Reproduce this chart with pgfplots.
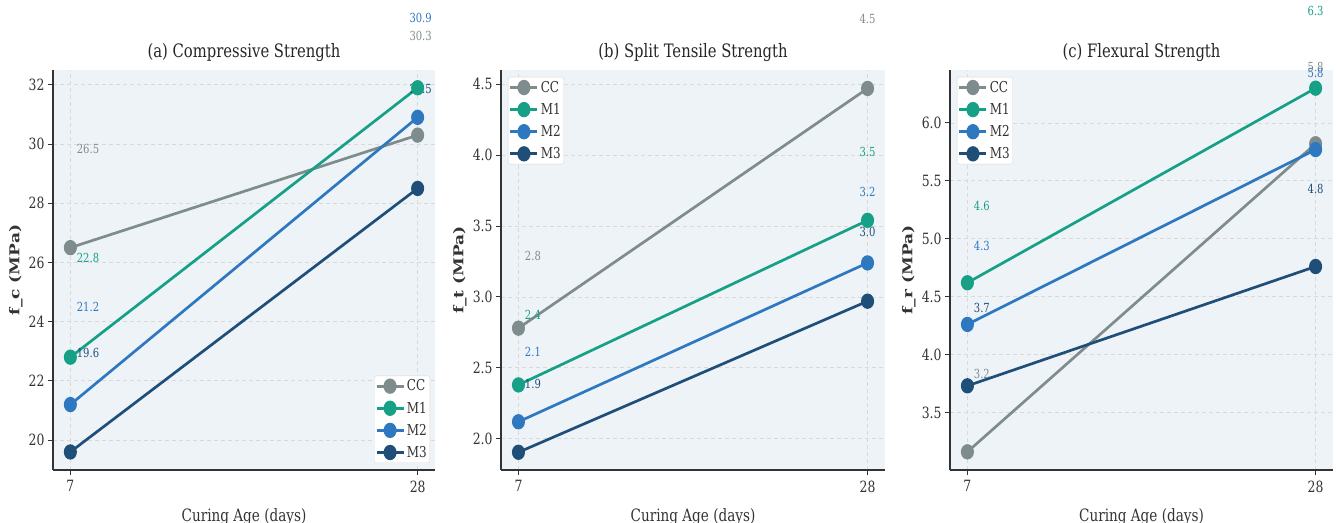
\documentclass[border=0pt]{standalone}
\usepackage{fontspec}
\setmainfont[FakeStretch=0.8]{DejaVu Serif}
\newfontfamily\ylf{DejaVu Serif}
\usepackage{pgfplots}
\pgfplotsset{compat=1.18}

\definecolor{ccc}{HTML}{7F8C8D}
\definecolor{mone}{HTML}{16A085}
\definecolor{mtwo}{HTML}{2E78C0}
\definecolor{mthree}{HTML}{1F4E79}
\definecolor{bgc}{HTML}{EEF3F8}
\definecolor{axc}{HTML}{333333}

\newcommand{\lbl}{\fontsize{12.5bp}{15bp}\selectfont}

\pgfplotsset{
  panel/.style={
    scale only axis, height=400bp,
    axis background/.style={fill=bgc},
    axis x line*=bottom, axis y line*=left,
    axis line style={draw=axc, line width=1.3bp},
    xmin=5.95, xmax=29.05, xtick={7,28},
    tick align=outside, major tick length=5bp,
    tick style={draw=axc, line width=1bp},
    grid=major,
    major grid style={dash pattern=on 4bp off 3bp, draw=gray!30, line width=0.8bp},
    /pgf/number format/assume math mode=true,
    ticklabel style={font=\fontsize{15.5bp}{17bp}\selectfont, text=axc},
    xticklabel style={yshift=-2bp},
    title style={font=\fontsize{18.5bp}{21bp}\selectfont, text=black!85, yshift=-1bp},
    xlabel style={font=\fontsize{17bp}{19bp}\selectfont, text=axc, yshift=-9bp},
    ylabel style={font=\ylf\bfseries\fontsize{17bp}{19bp}\selectfont, text=axc, yscale=0.8},
    xlabel={Curing Age (days)},
    clip=false,
    legend style={font=\fontsize{15bp}{17bp}\selectfont, draw=gray!30, fill=white,
      rounded corners=2bp, inner xsep=1bp, inner ysep=2bp, row sep=5.5bp, text=axc},
    legend cell align=left,
    legend image code/.code={%
      \draw[##1, mark repeat=2, mark phase=2] plot coordinates {(0bp,0bp) (13.5bp,0bp) (27bp,0bp)};},
  },
  ser/.style={color=#1, line width=2.7bp, mark=*, mark size=6.3bp,
    mark options={xscale=0.82, solid, fill=#1, draw=#1}},
}

\begin{document}
\begin{tikzpicture}

% (a) Compressive strength
\begin{axis}[panel, width=382bp, at={(53bp,53bp)}, anchor=south west,
  ymin=18.99, ymax=32.5, ytick={20,22,24,26,28,30,32},
  title={(a) Compressive Strength}, ylabel={f\_c (MPa)},
  legend style={at={(0.987,0.0175)}, anchor=south east}]
\addplot[ser=ccc] coordinates {(7,26.5) (28,30.3)};
\addplot[ser=mone] coordinates {(7,22.8) (28,31.9)};
\addplot[ser=mtwo] coordinates {(7,21.2) (28,30.9)};
\addplot[ser=mthree] coordinates {(7,19.6) (28,28.5)};
\legend{CC,M1,M2,M3}
\node[anchor=west, xshift=3bp, text=ccc, font=\lbl] at (axis cs:7,29.85) {26.5};
\node[anchor=west, xshift=3bp, text=mone, font=\lbl] at (axis cs:7,26.15) {22.8};
\node[anchor=west, xshift=3bp, text=mtwo, font=\lbl] at (axis cs:7,24.5) {21.2};
\node[anchor=west, xshift=3bp, text=mthree, font=\lbl] at (axis cs:7,22.95) {19.6};
\node[xshift=3bp, text=ccc, font=\lbl] at (axis cs:28,33.65) {30.3};
\node[xshift=3bp, text=mone, font=\lbl] at (axis cs:28,35.25) {31.9};
\node[xshift=3bp, text=mtwo, font=\lbl] at (axis cs:28,34.25) {30.9};
\node[xshift=3bp, text=mthree, font=\lbl] at (axis cs:28,31.85) {28.5};
\end{axis}

% (b) Split tensile strength
\begin{axis}[panel, width=384bp, at={(501bp,53bp)}, anchor=south west,
  ymin=1.78, ymax=4.60, ytick={2.0,2.5,3.0,3.5,4.0,4.5},
  yticklabel style={/pgf/number format/.cd, fixed, fixed zerofill, precision=1},
  title={(b) Split Tensile Strength}, ylabel={f\_t (MPa)},
  legend style={at={(0.018,0.9825)}, anchor=north west}]
\addplot[ser=ccc] coordinates {(7,2.78) (28,4.47)};
\addplot[ser=mone] coordinates {(7,2.38) (28,3.54)};
\addplot[ser=mtwo] coordinates {(7,2.12) (28,3.24)};
\addplot[ser=mthree] coordinates {(7,1.905) (28,2.97)};
\legend{CC,M1,M2,M3}
\node[anchor=west, xshift=3bp, text=ccc, font=\lbl] at (axis cs:7,3.29) {2.8};
\node[anchor=west, xshift=3bp, text=mone, font=\lbl] at (axis cs:7,2.87) {2.4};
\node[anchor=west, xshift=3bp, text=mtwo, font=\lbl] at (axis cs:7,2.61) {2.1};
\node[anchor=west, xshift=3bp, text=mthree, font=\lbl] at (axis cs:7,2.39) {1.9};
\node[text=ccc, font=\lbl] at (axis cs:28,4.96) {4.5};
\node[text=mone, font=\lbl] at (axis cs:28,4.02) {3.5};
\node[text=mtwo, font=\lbl] at (axis cs:28,3.74) {3.2};
\node[text=mthree, font=\lbl] at (axis cs:28,3.46) {3.0};
\end{axis}

% (c) Flexural strength
\begin{axis}[panel, width=383bp, at={(950bp,53bp)}, anchor=south west,
  ymin=3.003, ymax=6.457, ytick={3.5,4.0,4.5,5.0,5.5,6.0},
  yticklabel style={/pgf/number format/.cd, fixed, fixed zerofill, precision=1},
  title={(c) Flexural Strength}, ylabel={f\_r (MPa)},
  legend style={at={(0.018,0.9825)}, anchor=north west}]
\addplot[ser=ccc] coordinates {(7,3.16) (28,5.82)};
\addplot[ser=mone] coordinates {(7,4.62) (28,6.30)};
\addplot[ser=mtwo] coordinates {(7,4.26) (28,5.77)};
\addplot[ser=mthree] coordinates {(7,3.73) (28,4.76)};
\legend{CC,M1,M2,M3}
\node[anchor=west, xshift=3bp, text=ccc, font=\lbl] at (axis cs:7,3.83) {3.2};
\node[anchor=west, xshift=3bp, text=mone, font=\lbl] at (axis cs:7,5.28) {4.6};
\node[anchor=west, xshift=3bp, text=mtwo, font=\lbl] at (axis cs:7,4.94) {4.3};
\node[anchor=west, xshift=3bp, text=mthree, font=\lbl] at (axis cs:7,4.40) {3.7};
\node[text=ccc, font=\lbl] at (axis cs:28,6.48) {5.8};
\node[text=mone, font=\lbl] at (axis cs:28,6.97) {6.3};
\node[text=mtwo, font=\lbl] at (axis cs:28,6.43) {5.8};
\node[text=mthree, font=\lbl] at (axis cs:28,5.43) {4.8};
\end{axis}

\pgfresetboundingbox
\useasboundingbox (0bp,0bp) rectangle (1336bp,523bp);
\end{tikzpicture}
\end{document}
